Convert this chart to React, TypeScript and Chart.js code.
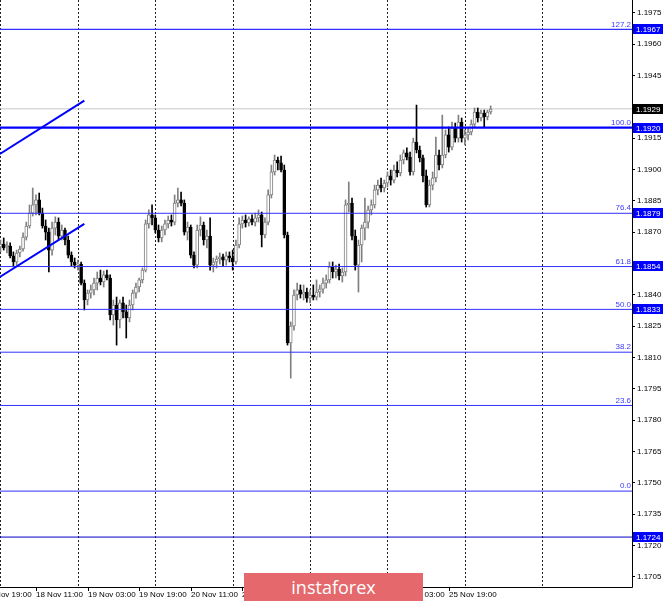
import React, { useEffect, useRef } from 'react';
import { Chart, registerables } from 'chart.js';
Chart.register(...registerables);

// EURUSD H1 candles, bar index 0 = 18 Nov 00:00
const OPEN = [
1.18629,1.18643,1.18629,1.18633,1.18586,1.18557,1.18600,1.18619,1.18676,1.18729,
1.18791,1.18830,1.18854,1.18791,1.18729,1.18700,1.18614,1.18719,1.18748,1.18681,
1.18710,1.18662,1.18590,1.18557,1.18542,1.18547,1.18456,1.18375,1.18408,1.18423,
1.18456,1.18480,1.18461,1.18495,1.18480,1.18303,1.18351,1.18279,1.18361,1.18318,
1.18289,1.18351,1.18408,1.18437,1.18471,1.18518,1.18739,1.18782,1.18768,1.18710,
1.18672,1.18710,1.18739,1.18758,1.18748,1.18839,1.18854,1.18839,1.18700,1.18724,
1.18590,1.18542,1.18710,1.18734,1.18662,1.18681,1.18542,1.18557,1.18571,1.18581,
1.18566,1.18586,1.18576,1.18557,1.18638,1.18739,1.18758,1.18744,1.18763,1.18748,
1.18768,1.18782,1.18686,1.18748,1.18878,1.18988,1.19045,1.19031,1.18997,1.18686,
1.18169,1.18250,1.18399,1.18423,1.18403,1.18413,1.18384,1.18399,1.18389,1.18413,
1.18427,1.18456,1.18471,1.18533,1.18509,1.18523,1.18490,1.18509,1.18830,1.18839,
1.18681,1.18542,1.18638,1.18719,1.18748,1.18806,1.18830,1.18902,1.18925,1.18911,
1.18935,1.18969,1.18949,1.18997,1.18983,1.19045,1.19079,1.19059,1.18988,1.19131,
1.19093,1.19055,1.18969,1.18830,1.18925,1.18959,1.19069,1.19021,1.19069,1.19165,
1.19107,1.19198,1.19150,1.19227,1.19150,1.19165,1.19179,1.19217,1.19275,1.19246,
1.19270,1.19251,1.19275
];
const HIGH = [
1.18662,1.18672,1.18653,1.18648,1.18605,1.18614,1.18633,1.18696,1.18748,1.18830,
1.18911,1.18878,1.18887,1.18815,1.18758,1.18719,1.18748,1.18773,1.18768,1.18734,
1.18719,1.18681,1.18605,1.18576,1.18566,1.18557,1.18471,1.18423,1.18447,1.18480,
1.18509,1.18518,1.18514,1.18518,1.18495,1.18375,1.18389,1.18375,1.18389,1.18351,
1.18375,1.18423,1.18456,1.18480,1.18528,1.18758,1.18806,1.18830,1.18782,1.18734,
1.18729,1.18758,1.18777,1.18782,1.18878,1.18911,1.18892,1.18854,1.18748,1.18734,
1.18605,1.18734,1.18773,1.18748,1.18710,1.18768,1.18576,1.18586,1.18600,1.18595,
1.18605,1.18605,1.18614,1.18662,1.18768,1.18777,1.18782,1.18773,1.18782,1.18791,
1.18806,1.18796,1.18768,1.18902,1.19021,1.19069,1.19059,1.19064,1.19021,1.18700,
1.18270,1.18423,1.18456,1.18447,1.18447,1.18432,1.18423,1.18447,1.18471,1.18447,
1.18480,1.18495,1.18557,1.18557,1.18542,1.18547,1.18528,1.18854,1.18940,1.18863,
1.18710,1.18662,1.18734,1.18863,1.18825,1.18854,1.18925,1.18949,1.18959,1.18949,
1.18988,1.18997,1.19021,1.19036,1.19069,1.19093,1.19103,1.19083,1.19150,1.19308,
1.19112,1.19069,1.18997,1.18949,1.18988,1.19155,1.19093,1.19260,1.19189,1.19203,
1.19227,1.19222,1.19260,1.19246,1.19189,1.19198,1.19237,1.19294,1.19294,1.19284,
1.19284,1.19284,1.19304
];
const LOW = [
1.18605,1.18614,1.18600,1.18576,1.18538,1.18542,1.18581,1.18609,1.18662,1.18719,
1.18777,1.18782,1.18782,1.18719,1.18662,1.18509,1.18590,1.18686,1.18662,1.18662,
1.18638,1.18576,1.18538,1.18528,1.18518,1.18447,1.18327,1.18351,1.18384,1.18399,
1.18423,1.18447,1.18437,1.18471,1.18279,1.18255,1.18159,1.18241,1.18289,1.18193,
1.18270,1.18327,1.18384,1.18413,1.18456,1.18509,1.18719,1.18734,1.18696,1.18653,
1.18653,1.18686,1.18719,1.18729,1.18734,1.18820,1.18825,1.18686,1.18662,1.18576,
1.18528,1.18528,1.18681,1.18638,1.18624,1.18518,1.18509,1.18528,1.18547,1.18538,
1.18542,1.18557,1.18518,1.18547,1.18624,1.18719,1.18724,1.18729,1.18734,1.18729,
1.18748,1.18629,1.18672,1.18734,1.18863,1.18973,1.18997,1.18988,1.18672,1.18159,
1.18001,1.18231,1.18375,1.18384,1.18375,1.18365,1.18361,1.18375,1.18375,1.18389,
1.18408,1.18432,1.18456,1.18480,1.18480,1.18471,1.18461,1.18490,1.18796,1.18662,
1.18518,1.18413,1.18557,1.18662,1.18719,1.18782,1.18815,1.18878,1.18892,1.18892,
1.18916,1.18925,1.18935,1.18964,1.18969,1.19026,1.19045,1.18973,1.18973,1.19079,
1.19036,1.18940,1.18820,1.18820,1.18902,1.18940,1.18997,1.19007,1.19055,1.19083,
1.19093,1.19131,1.19131,1.19131,1.19117,1.19141,1.19165,1.19203,1.19227,1.19232,
1.19203,1.19237,1.19265
];
const CLOSE = [
1.18643,1.18624,1.18638,1.18586,1.18557,1.18600,1.18619,1.18676,1.18729,1.18791,
1.18830,1.18854,1.18791,1.18729,1.18700,1.18614,1.18719,1.18748,1.18681,1.18710,
1.18662,1.18590,1.18557,1.18542,1.18547,1.18456,1.18375,1.18408,1.18423,1.18456,
1.18480,1.18461,1.18495,1.18480,1.18303,1.18351,1.18279,1.18361,1.18318,1.18289,
1.18351,1.18408,1.18437,1.18471,1.18518,1.18739,1.18782,1.18768,1.18710,1.18672,
1.18710,1.18739,1.18758,1.18748,1.18839,1.18854,1.18839,1.18700,1.18724,1.18590,
1.18542,1.18710,1.18734,1.18662,1.18681,1.18542,1.18557,1.18571,1.18581,1.18566,
1.18586,1.18576,1.18557,1.18638,1.18739,1.18758,1.18744,1.18763,1.18748,1.18768,
1.18782,1.18686,1.18748,1.18878,1.18988,1.19045,1.19031,1.18997,1.18686,1.18169,
1.18250,1.18399,1.18423,1.18403,1.18413,1.18384,1.18399,1.18389,1.18413,1.18427,
1.18456,1.18471,1.18533,1.18509,1.18523,1.18490,1.18509,1.18830,1.18839,1.18681,
1.18542,1.18638,1.18719,1.18748,1.18806,1.18830,1.18902,1.18925,1.18911,1.18935,
1.18969,1.18949,1.18997,1.18983,1.19045,1.19079,1.19059,1.18988,1.19131,1.19093,
1.19055,1.18969,1.18830,1.18925,1.18959,1.19069,1.19021,1.19069,1.19165,1.19107,
1.19198,1.19150,1.19227,1.19150,1.19165,1.19179,1.19217,1.19275,1.19246,1.19270,
1.19251,1.19275,1.19289
];

const DAY_STARTS = [0, 24, 48, 72, 96, 120, 144, 168];
const TIME_LABEL_INDEX = [-5, 11, 27, 43, 59, 75, 91, 107, 123, 139];
const TIME_LABELS = ['17 Nov 19:00', '18 Nov 11:00', '19 Nov 03:00', '19 Nov 19:00', '20 Nov 11:00',
  '23 Nov 03:00', '23 Nov 19:00', '24 Nov 11:00', '25 Nov 03:00', '25 Nov 19:00'];
const Y_TICKS = [1.1705, 1.1720, 1.1735, 1.1750, 1.1765, 1.1780, 1.1795, 1.1810, 1.1825, 1.1840,
  1.1855, 1.1870, 1.1885, 1.1900, 1.1915, 1.1930, 1.1945, 1.1960, 1.1975];
const FIB_LEVELS = [1.1967, 1.1920, 1.1879, 1.18535, 1.1833, 1.18125, 1.1787, 1.1746];
const FIB_NAMES = ['127.2', '100.0', '76.4', '61.8', '50.0', '38.2', '23.6', '0.0'];
const FIB_WIDTHS = [1.3, 2.2, 1, 1, 1, 1, 1, 1];
const PRICE_BOXES = [1.1967, 1.1920, 1.1879, 1.1854, 1.1833, 1.1724];
const SUPPORT_LEVEL = 1.1724;
const CURRENT_PRICE = 1.1929;
const TREND_UPPER = [{ x: -0.2, y: 1.19074 }, { x: 26, y: 1.19329 }];
const TREND_LOWER = [{ x: -0.2, y: 1.18485 }, { x: 26, y: 1.18739 }];
const X_MIN = -0.15, X_MAX = 195.82;
const Y_MIN = 1.17001, Y_MAX = 1.19811;

const FONT = '8px "Liberation Sans", Arial, sans-serif';

const overlay = {
  id: 'overlay',
  beforeDatasetsDraw(chart: any) {
    const { ctx, chartArea, scales } = chart;
    ctx.save();
    ctx.strokeStyle = '#202020';
    ctx.lineWidth = 1;
    ctx.setLineDash([2, 2]);
    DAY_STARTS.forEach(d => {
      const px = Math.round(scales.x.getPixelForValue(d)) + 0.5;
      if (px < chartArea.left || px > chartArea.right) return;
      ctx.beginPath();
      ctx.moveTo(px, chartArea.top);
      ctx.lineTo(px, chartArea.bottom);
      ctx.stroke();
    });
    ctx.restore();
  },
  afterDraw(chart: any) {
    const { ctx, chartArea, scales } = chart;
    const x = scales.x, y = scales.y;
    ctx.save();
    // frame
    ctx.strokeStyle = '#000';
    ctx.lineWidth = 1;
    ctx.beginPath();
    ctx.moveTo(Math.round(chartArea.right) + 0.5, 0);
    ctx.lineTo(Math.round(chartArea.right) + 0.5, Math.round(chartArea.bottom) + 0.5);
    ctx.lineTo(0, Math.round(chartArea.bottom) + 0.5);
    ctx.stroke();
    // fib level names
    ctx.font = FONT;
    ctx.fillStyle = '#3a3aff';
    ctx.textAlign = 'right';
    ctx.textBaseline = 'bottom';
    FIB_LEVELS.forEach((lv, i) => {
      ctx.fillText(FIB_NAMES[i], chartArea.right - 1, y.getPixelForValue(lv) - 1);
    });
    // price boxes
    ctx.textAlign = 'left';
    ctx.textBaseline = 'middle';
    const box = (v: number, bg: string) => {
      const py = Math.round(y.getPixelForValue(v));
      ctx.fillStyle = bg;
      ctx.fillRect(chartArea.right + 1, py - 5, 30, 10);
      ctx.fillStyle = '#fff';
      ctx.fillText(v.toFixed(4), chartArea.right + 4, py + 0.5);
    };
    PRICE_BOXES.forEach(v => box(v, '#0000ff'));
    box(CURRENT_PRICE, '#000');
    // time labels
    ctx.fillStyle = '#000';
    ctx.strokeStyle = '#000';
    ctx.textBaseline = 'middle';
    TIME_LABEL_INDEX.forEach((idx, i) => {
      const px = Math.round(x.getPixelForValue(idx));
      ctx.beginPath();
      ctx.moveTo(px + 0.5, chartArea.bottom + 1);
      ctx.lineTo(px + 0.5, chartArea.bottom + 4);
      ctx.stroke();
      ctx.fillText(TIME_LABELS[i], px, chartArea.bottom + 8);
    });
    ctx.restore();
  },
};

function hLine(level: number, color: string, width: number, order: number) {
  return {
    type: 'line',
    data: [{ x: X_MIN, y: level }, { x: X_MAX, y: level }],
    borderColor: color,
    borderWidth: width,
    pointRadius: 0,
    order,
  };
}

export default function App() {
  const ref = useRef<HTMLCanvasElement>(null);
  useEffect(() => {
    const idx = OPEN.map((_, i) => i);
    const up = OPEN.map((o, i) => CLOSE[i] >= o);
    const datasets: any[] = [
      hLine(CURRENT_PRICE, '#c8c8c8', 1, 30),
      {
        type: 'bar',
        data: idx.map(i => ({ x: i, y: [LOW[i], HIGH[i]] })),
        backgroundColor: up.map(u => (u ? '#808080' : '#000')),
        borderWidth: 0,
        barThickness: 1,
        grouped: false,
        order: 21,
      },
      {
        type: 'bar',
        data: idx.map(i => ({ x: i, y: [OPEN[i], CLOSE[i]] })),
        backgroundColor: up.map(u => (u ? '#ffffff' : '#000')),
        borderColor: up.map(u => (u ? '#808080' : '#000')),
        borderWidth: 1,
        borderSkipped: false,
        barThickness: 3,
        grouped: false,
        order: 20,
      },
      ...FIB_LEVELS.map((lv, i) => hLine(lv, i === 1 ? '#0000ff' : '#3030ff', FIB_WIDTHS[i], 2)),
      hLine(SUPPORT_LEVEL, '#0000c8', 1, 2),
      { type: 'line', data: TREND_UPPER, borderColor: '#0000ff', borderWidth: 2, pointRadius: 0, order: 1 },
      { type: 'line', data: TREND_LOWER, borderColor: '#0000ff', borderWidth: 2, pointRadius: 0, order: 1 },
    ];
    const chart = new Chart(ref.current as HTMLCanvasElement, {
      type: 'bar',
      data: { datasets },
      options: {
        animation: false,
        responsive: false,
        devicePixelRatio: 1,
        events: [],
        layout: { padding: 0 },
        plugins: { legend: { display: false }, tooltip: { enabled: false } },
        scales: {
          x: {
            type: 'linear',
            min: X_MIN,
            max: X_MAX,
            offset: false,
            afterFit: (s: any) => { s.height = 17; s.paddingLeft = 0; s.paddingRight = 0; },
            ticks: { display: false },
            grid: { display: false },
            border: { display: false },
          },
          y: {
            type: 'linear',
            position: 'right',
            min: Y_MIN,
            max: Y_MAX,
            afterBuildTicks: (s: any) => { s.ticks = Y_TICKS.map(v => ({ value: v })); },
            afterFit: (s: any) => { s.width = 33; s.paddingTop = 0; s.paddingBottom = 0; },
            ticks: {
              autoSkip: false,
              padding: 2,
              color: '#000',
              font: { family: '"Liberation Sans", Arial, sans-serif', size: 8 },
              callback: (v: any) => Number(v).toFixed(4),
            },
            grid: { drawOnChartArea: false, drawTicks: true, tickLength: 3, tickColor: '#000' },
            border: { display: false },
          },
        },
      } as any,
      plugins: [overlay],
    } as any);
    return () => chart.destroy();
  }, []);
  return (
    <div style={{ position: 'fixed', left: 0, top: 0, width: 665, height: 604, background: '#fff', overflow: 'hidden' }}>
      <canvas ref={ref} width={665} height={604} style={{ display: 'block' }} />
      <div
        style={{
          position: 'absolute', left: 244, top: 573, width: 179, height: 28,
          background: '#e4686c', color: '#fff', font: '18px "Open Sans", sans-serif',
          display: 'flex', alignItems: 'center', justifyContent: 'center', lineHeight: '28px',
        }}
      >
        instaforex
      </div>
    </div>
  );
}
